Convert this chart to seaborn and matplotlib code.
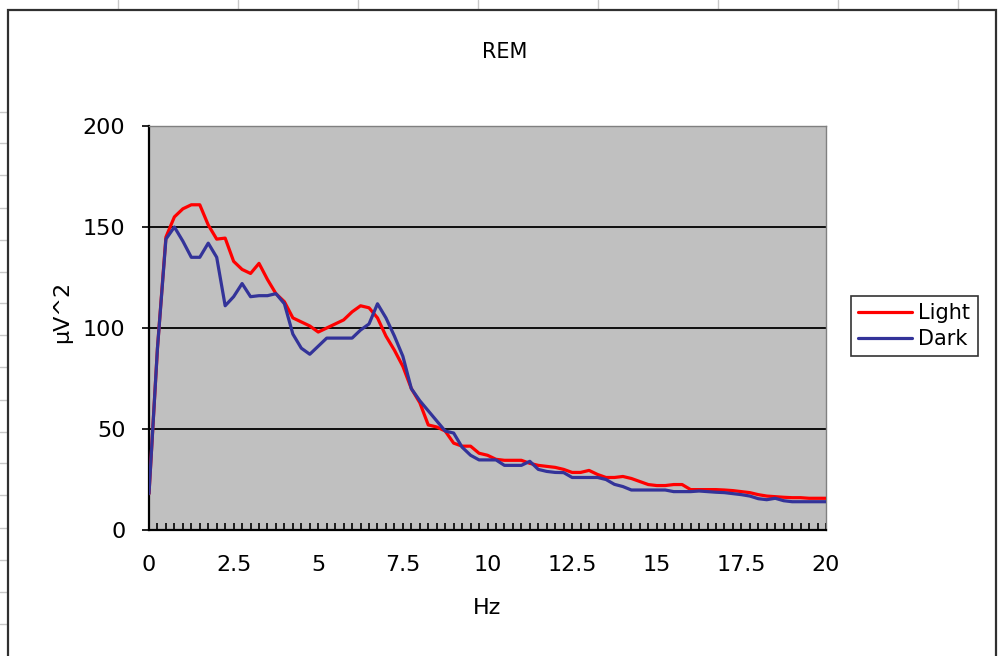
import numpy as np
import pandas as pd
import matplotlib
matplotlib.use("Agg")
import matplotlib.pyplot as plt
from matplotlib.lines import Line2D
from matplotlib.patches import Rectangle
from matplotlib.ticker import MultipleLocator
import seaborn as sns

# ---- data ----
hz = [i * 0.25 for i in range(81)]
light = [18, 90, 145, 155, 159, 161, 161, 151, 144, 144.5,
         133, 129, 127, 132, 124, 117, 113, 105, 103, 101,
         98, 100, 102, 104, 108, 111, 110, 105, 96, 89,
         81, 70, 63, 52, 51, 49, 43, 41.5, 41.5, 38,
         37, 35, 34.5, 34.5, 34.5, 33, 32, 31.5, 31, 30,
         28.5, 28.5, 29.5, 27.5, 26, 26, 26.5, 25.5, 24, 22.5,
         22, 22, 22.5, 22.5, 20, 20, 20, 20, 19.8, 19.5,
         19, 18.5, 17.5, 16.8, 16.5, 16.2, 16, 16, 15.7, 15.7,
         15.7]
dark = [18, 90, 144, 150, 143, 135, 135, 142, 135, 111,
        115.5, 122, 115.5, 116, 116, 117, 112, 97, 90, 87,
        91, 95, 95, 95, 95, 99, 102, 112, 105, 96,
        86, 70, 64, 59, 54, 49, 48, 41, 37, 34.7,
        34.7, 34.7, 32, 32, 32, 34, 30, 29, 28.5, 28.4,
        26, 26, 26, 26, 25, 22.6, 21.5, 19.8, 19.8, 19.8,
        19.8, 19.8, 19, 19, 19, 19.3, 19, 18.7, 18.5, 18,
        17.5, 16.8, 15.5, 15, 15.7, 14.5, 14, 14, 14, 14,
        14]
series_names = ["Light", "Dark"]
colors = {"Light": "#FF0000", "Dark": "#333399"}
xtick_vals = [0, 2.5, 5, 7.5, 10, 12.5, 15, 17.5, 20]
xtick_labels = ["0", "2.5", "5", "7.5", "10", "12.5", "15", "17.5", "20"]
ytick_vals = [0, 50, 100, 150, 200]

df = pd.DataFrame({
    "Hz": hz * 2,
    "val": light + dark,
    "series": ["Light"] * len(hz) + ["Dark"] * len(hz),
})

sns.set_style("white")
plt.rcParams["font.family"] = ["DejaVu Sans"]
plt.rcParams["text.color"] = "black"
plt.rcParams["xtick.color"] = "black"
plt.rcParams["ytick.color"] = "black"

W, H = 1000, 656
fig = plt.figure(figsize=(W / 100, H / 100), dpi=100)
fig.patch.set_facecolor("white")

def fx(x):
    return x / W

def fy(y):
    return 1 - y / H

# spreadsheet grid behind the chart
for x in [118, 238, 358, 478, 598, 718, 838, 958]:
    fig.add_artist(Line2D([fx(x), fx(x)], [fy(0), fy(10)], color="#C8C8C8", lw=1, zorder=-2))
for y in [112, 143, 175, 208, 240, 272, 303, 335, 367, 400, 432, 463, 495, 528, 560, 592, 624]:
    fig.add_artist(Line2D([fx(0), fx(8)], [fy(y), fy(y)], color="#C8C8C8", lw=1, zorder=-2))
# chart area
fig.add_artist(Rectangle((fx(8), fy(670)), fx(988), (670 - 10) / H,
                         transform=fig.transFigure, facecolor="white",
                         edgecolor="#303030", lw=1.6, zorder=-1))

ax = fig.add_axes([fx(149), fy(530), fx(826 - 149), (530 - 126) / H])
ax.set_facecolor("#C0C0C0")

sns.lineplot(data=df, x="Hz", y="val", hue="series", hue_order=series_names,
             palette=colors, ax=ax, lw=2.3, legend=False, zorder=3)

ax.set_xlim(0, 20)
ax.set_ylim(0, 200)
ax.set_xticks(xtick_vals)
ax.set_xticklabels(xtick_labels)
ax.set_yticks(ytick_vals)
ax.xaxis.set_minor_locator(MultipleLocator(0.25))
ax.set_xlabel("")
ax.set_ylabel("")

for v in [50, 100, 150]:
    ax.axhline(v, color="black", lw=1.3, zorder=1)

for s in ["left", "bottom"]:
    ax.spines[s].set_color("black")
    ax.spines[s].set_linewidth(1.6)
for s in ["top", "right"]:
    ax.spines[s].set_color("#808080")
    ax.spines[s].set_linewidth(1.0)

ax.tick_params(axis="x", which="both", direction="in", length=5, width=1.2,
               color="black", bottom=True, labelsize=16, pad=18)
ax.tick_params(axis="y", which="major", direction="out", length=5, width=1.2,
               color="black", left=True, labelsize=16, pad=12)

fig.text(fx(505), fy(52), "REM", ha="center", va="center", fontsize=15)
fig.text(fx(487), fy(608), "Hz", ha="center", va="center", fontsize=16)
fig.text(fx(62), fy(312), "μV^2", ha="center", va="center", rotation=90, fontsize=16)

handles = [Line2D([], [], color=colors[n], lw=2.3) for n in series_names]
leg = fig.legend(handles, series_names, loc="center",
                 bbox_to_anchor=(fx(914), fy(326)), frameon=True, fancybox=False,
                 fontsize=15, handlelength=2.6, handletextpad=0.3,
                 borderpad=0.35, labelspacing=0.3, borderaxespad=0)
leg.get_frame().set_edgecolor("black")
leg.get_frame().set_linewidth(1.2)
leg.get_frame().set_facecolor("white")

fig.savefig("out.png", dpi=100, facecolor="white")
